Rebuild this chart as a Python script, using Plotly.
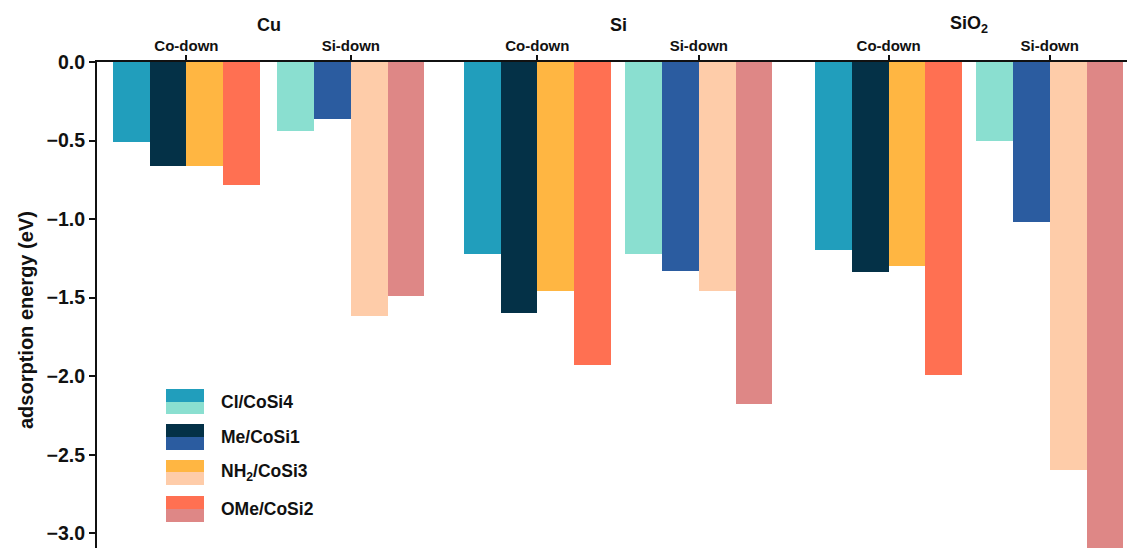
import plotly.graph_objects as go

# Adsorption energies (eV) per ligand, for each substrate
substrates = ["Cu", "Si", "SiO<sub>2</sub>"]
series_names = ["Cl/CoSi4", "Me/CoSi1", "NH<sub>2</sub>/CoSi3", "OMe/CoSi2"]

co_down = {
    "Cl/CoSi4":  [-0.51, -1.22, -1.20],
    "Me/CoSi1":  [-0.66, -1.60, -1.34],
    "NH2/CoSi3": [-0.66, -1.46, -1.30],
    "OMe/CoSi2": [-0.78, -1.93, -1.99],
}
si_down = {
    "Cl/CoSi4":  [-0.44, -1.22, -0.50],
    "Me/CoSi1":  [-0.36, -1.33, -1.02],
    "NH2/CoSi3": [-1.62, -1.46, -2.60],
    "OMe/CoSi2": [-1.49, -2.18, -3.15],
}
series_keys = ["Cl/CoSi4", "Me/CoSi1", "NH2/CoSi3", "OMe/CoSi2"]

dark_colors = ["#219ebc", "#043147", "#ffb642", "#ff7052"]
light_colors = ["#8adfd0", "#2b5ca0", "#fecca9", "#de8786"]

orientation_labels = ["Co-down", "Si-down"]
y_ticks = [0, -0.5, -1.0, -1.5, -2.0, -2.5, -3.0]

# Layout: one x unit equals one bar width
W, H = 1127, 548
ML, MT = 97, 62
co_pos = [2.43, 11.97, 21.52]
si_pos = [6.90, 16.36, 25.90]
x_range = [0, 28.0]
y_range = [-3.094, 0]

FONT = "Liberation Sans, Arial, sans-serif"
INK = "#111111"

fig = go.Figure()
for i, key in enumerate(series_keys):
    off = i - 1.5
    fig.add_trace(go.Bar(
        x=[p + off for p in co_pos], y=co_down[key], width=1.0,
        marker=dict(color=dark_colors[i], line=dict(width=0)),
        showlegend=False, name=key + " Co-down"))
    fig.add_trace(go.Bar(
        x=[p + off for p in si_pos], y=si_down[key], width=1.0,
        marker=dict(color=light_colors[i], line=dict(width=0)),
        showlegend=False, name=key + " Si-down"))

tickvals, ticktext = [], []
for c, s in zip(co_pos, si_pos):
    tickvals += [c, s]
    ticktext += orientation_labels

pw, ph = W - ML, H - MT


def px_x(px):
    return (px - ML) / pw


def px_y(py):
    return (H - py) / ph


annotations = []
# substrate headers centred over each pair of groups
for name, c, s in zip(substrates, co_pos, si_pos):
    annotations.append(dict(
        x=(c + s) / 2, xref="x", y=px_y(25), yref="paper",
        text=name, showarrow=False,
        font=dict(family=FONT, size=18, color=INK, weight="bold"),
        xanchor="center", yanchor="middle"))

# y-axis title
annotations.append(dict(
    x=px_x(26), xref="paper", y=px_y(320), yref="paper",
    text="adsorption energy (eV)", textangle=-90, showarrow=False,
    font=dict(family=FONT, size=20, color=INK, weight="bold"),
    xanchor="center", yanchor="middle"))

# two-tone legend
shapes = []
rows = [(389, 402, 414), (424, 437, 450), (460, 472, 485), (496, 509, 522)]
for i, (top, mid, bot) in enumerate(rows):
    shapes.append(dict(type="rect", xref="paper", yref="paper",
                       x0=px_x(166), x1=px_x(204), y0=px_y(mid), y1=px_y(top),
                       fillcolor=dark_colors[i], line=dict(width=0)))
    shapes.append(dict(type="rect", xref="paper", yref="paper",
                       x0=px_x(166), x1=px_x(204), y0=px_y(bot), y1=px_y(mid),
                       fillcolor=light_colors[i], line=dict(width=0)))
    annotations.append(dict(
        x=px_x(219), xref="paper", y=px_y((top + bot) / 2), yref="paper",
        text=series_names[i], showarrow=False,
        font=dict(family=FONT, size=17.5, color=INK, weight="bold"),
        xanchor="left", yanchor="middle"))

fig.update_layout(
    width=W, height=H,
    margin=dict(l=ML, r=0, t=MT, b=0, autoexpand=False),
    paper_bgcolor="white", plot_bgcolor="white",
    barmode="overlay", bargap=0,
    annotations=annotations, shapes=shapes,
    xaxis=dict(
        range=x_range, side="top", showgrid=False, zeroline=False,
        showline=True, linecolor=INK, linewidth=2,
        ticks="outside", ticklen=5, tickwidth=1.5, tickcolor=INK,
        tickmode="array", tickvals=tickvals, ticktext=ticktext,
        ticklabelstandoff=-2,
        tickfont=dict(family=FONT, size=15, color=INK, weight="bold")),
    yaxis=dict(
        range=y_range, showgrid=False, zeroline=False,
        showline=True, linecolor=INK, linewidth=2,
        ticks="outside", ticklen=6, tickwidth=2, tickcolor=INK,
        tickmode="array", tickvals=y_ticks, tickformat=".1f",
        tickfont=dict(family=FONT, size=19.5, color=INK, weight="bold")),
)

fig.write_html("out.html")
